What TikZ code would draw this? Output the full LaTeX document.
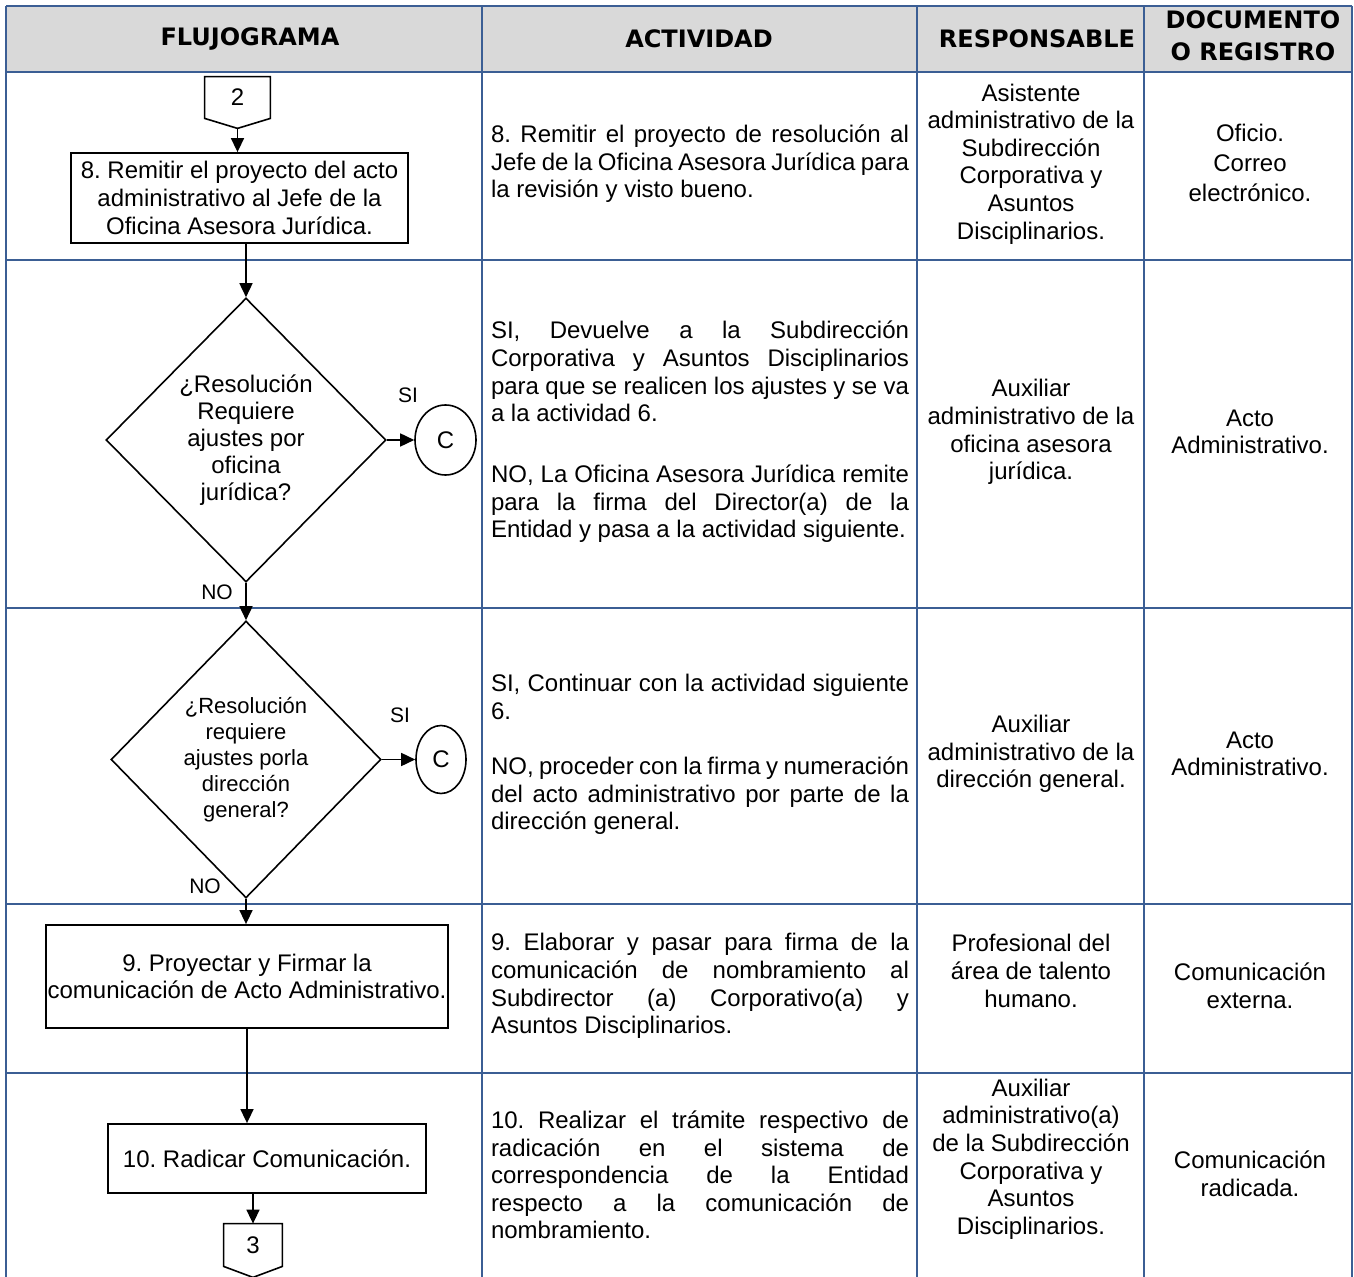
\documentclass[tikz,border=0pt]{standalone}
\usepackage{fontspec}
\setmainfont{Liberation Sans}
\newfontfamily\encfont{DejaVu Sans}
\usetikzlibrary{shapes.geometric,arrows.meta,calc}
\definecolor{bordeazul}{RGB}{59,94,148}
\definecolor{grisenc}{RGB}{217,217,217}
\tolerance=10000
\hbadness=10000
\frenchspacing

\begin{document}
\begin{tikzpicture}[x=0.5pt,y=-0.5pt,
        tabla/.style={draw=bordeazul,line width=1pt},
        encab/.style={font=\encfont\bfseries\fontsize{12}{16}\selectfont,align=center,inner sep=0pt},
        caja/.style={draw,line width=0.9pt,inner sep=0pt,align=center,font=\fontsize{12}{13.8}\selectfont},
        decision/.style={draw,diamond,line width=0.8pt,inner sep=0pt,align=center},
        conector/.style={draw,ellipse,line width=0.8pt,inner sep=0pt,font=\fontsize{12}{13.8}\selectfont},
        etiq/.style={inner sep=0pt,font=\fontsize{10.5}{12}\selectfont},
        flecha/.style={-{Triangle[length=7pt,width=6.5pt]},line width=0.8pt},
        txtact/.style={text width=209pt,inner sep=0pt,align=justify,font=\fontsize{12}{13.8}\selectfont},
        txtcol/.style={inner sep=0pt,align=center,font=\fontsize{12}{13.8}\selectfont}]
        \useasboundingbox (0,0) rectangle (1354,1277);
        \fill[grisenc] (6,6) rectangle (1352,72);
        \foreach \x in {6,482,917,1144,1352}
            \draw[tabla] (\x,6) -- (\x,1277);
        \foreach \y in {6,72,260,608,904,1073}
            \draw[tabla] (6,\y) -- (1352,\y);
        \node[encab] (hflujo) at (250,39) {FLUJOGRAMA};
        \node[encab] (hact) at (699,39) {ACTIVIDAD};
        \node[encab] (hresp) at (1037,39) {RESPONSABLE};
        \node[encab] (hdoc) at (1253,36) {DOCUMENTO\\O REGISTRO};
        \node[inner sep=0pt,minimum width=32.5pt,minimum height=20.5pt,font=\fontsize{12}{13.8}\selectfont] (p2) at (237.5,97.5) {2};
        \draw[line width=0.8pt] (p2.north west) -- (p2.north east) -- (p2.south east) -- ($(p2.south)+(0,10)$) -- (p2.south west) -- cycle;
        \coordinate (p2tip) at ($(p2.south)+(0,10)$);
        \node[caja,minimum width=168.5pt,minimum height=45pt] (b8) at (239.5,198) {8. Remitir el proyecto del acto\\administrativo al Jefe de la\\Oficina Asesora Jurídica.};
        \node[decision,minimum width=140pt,minimum height=142pt,font=\fontsize{12}{13.5}\selectfont] (d1) at (246,440) {¿Resolución\\Requiere\\ajustes por\\oficina\\jurídica?};
        \node[conector,minimum width=30.5pt,minimum height=35pt] (c1) at (445.5,440) {C};
        \node[etiq] (si1) at (408,395) {SI};
        \node[etiq] (no1) at (217,592) {NO};
        \node[decision,minimum width=135pt,minimum height=138.5pt,font=\fontsize{11}{13}\selectfont] (d2) at (246,759.5) {¿Resolución\\requiere\\ajustes porla\\dirección\\general?};
        \node[conector,minimum width=25pt,minimum height=34pt] (c2) at (441,759.5) {C};
        \node[etiq] (si2) at (400,715) {SI};
        \node[etiq] (no2) at (205,886) {NO};
        \node[caja,minimum width=201pt,minimum height=51.5pt] (b9) at (247,976.5) {9. Proyectar y Firmar la\\comunicación de Acto Administrativo.};
        \node[caja,minimum width=159pt,minimum height=34.5pt] (b10) at (267,1158.5) {10. Radicar Comunicación.};
        \node[inner sep=0pt,minimum width=29pt,minimum height=21pt,font=\fontsize{12}{13.8}\selectfont] (p3) at (253,1245) {3};
        \draw[line width=0.8pt] (p3.north west) -- (p3.north east) -- (p3.south east) -- ($(p3.south)+(0,11)$) -- (p3.south west) -- cycle;
        \draw[flecha] (p2tip) -- (p2tip |- b8.north);
        \draw[flecha] (d1.north |- b8.south) -- (d1.north);
        \draw[flecha] (d1.east) -- (c1.west);
        \draw[flecha] (d1.south) -- (d2.north);
        \draw[flecha] (d2.east) -- (c2.west);
        \draw[flecha] (d2.south) -- (d2.south |- b9.north);
        \draw[flecha] (b9.south) -- (b9.south |- b10.north);
        \draw[flecha] (p3.north |- b10.south) -- (p3.north);
        \node[txtact] (a1) at (700,164) {8. Remitir el proyecto de resolución al\linebreak Jefe de la Oficina Asesora Jurídica para\linebreak la revisión y visto bueno.};
        \node[txtact] (a2) at (700,432) {SI, Devuelve a la Subdirección\linebreak Corporativa y Asuntos Disciplinarios\linebreak para que se realicen los ajustes y se va\linebreak a la actividad 6.\par\vspace{16.7pt}NO, La Oficina Asesora Jurídica remite\linebreak para la firma del Director(a) de la\linebreak Entidad y pasa a la actividad siguiente.};
        \node[txtact] (a3) at (700,754.5) {SI, Continuar con la actividad siguiente\linebreak 6.\par\vspace{13.7pt}NO, proceder con la firma y numeración\linebreak del acto administrativo por parte de la\linebreak dirección general.};
        \node[txtact] (a4) at (700,986) {9. Elaborar y pasar para firma de la\linebreak comunicación de nombramiento al\linebreak Subdirector (a) Corporativo(a) y\linebreak Asuntos Disciplinarios.};
        \node[txtact] (a5) at (700,1175) {10. Realizar el trámite respectivo de\linebreak radicación en el sistema de\linebreak correspondencia de la Entidad\linebreak respecto a la comunicación de\linebreak nombramiento.};
        \node[txtcol] (r1) at (1031,164) {Asistente\\administrativo de la\\Subdirección\\Corporativa y\\Asuntos\\Disciplinarios.};
        \node[txtcol] (r2) at (1031,432) {Auxiliar\\administrativo de la\\oficina asesora\\jurídica.};
        \node[txtcol] (r3) at (1031,754) {Auxiliar\\administrativo de la\\dirección general.};
        \node[txtcol] (r4) at (1031,971) {Profesional del\\área de talento\\humano.};
        \node[txtcol] (r5) at (1031,1159) {Auxiliar\\administrativo(a)\\de la Subdirección\\Corporativa y\\Asuntos\\Disciplinarios.};
        \node[txtcol,font=\fontsize{12}{15}\selectfont] (g1) at (1250,163) {Oficio.\\Correo\\electrónico.};
        \node[txtcol] (g2) at (1250,432) {Acto\\Administrativo.};
        \node[txtcol] (g3) at (1250,754) {Acto\\Administrativo.};
        \node[txtcol] (g4) at (1250,986) {Comunicación\\externa.};
        \node[txtcol] (g5) at (1250,1174) {Comunicación\\radicada.};
\end{tikzpicture}
\end{document}
